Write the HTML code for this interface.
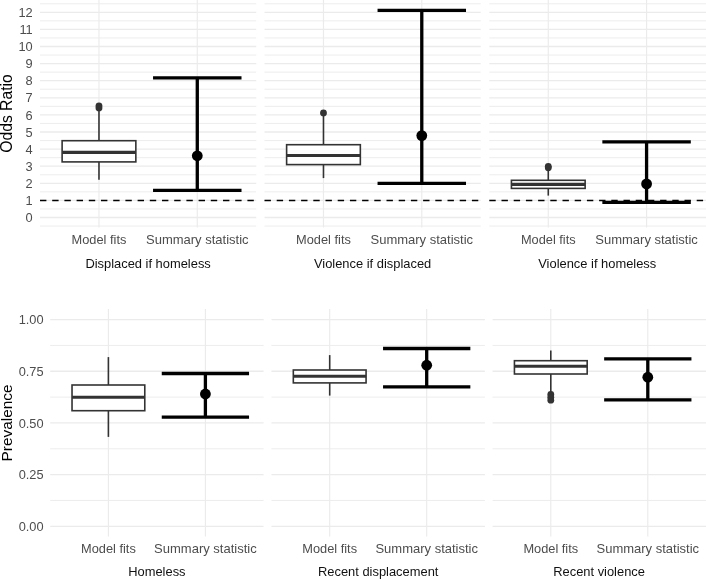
<!DOCTYPE html>
<html lang="en"><head><meta charset="utf-8"><title>Odds ratio and prevalence: model fits vs summary statistic</title>
<style>html,body{margin:0;padding:0;background:#fff}body{width:706px;height:579px;overflow:hidden}svg{display:block}</style></head>
<body>
<svg width="706" height="579" viewBox="0 0 706 579" font-family='"Liberation Sans", Arial, Helvetica, sans-serif'>
<rect width="706" height="579" fill="#fff"/>
<line x1="40.00" x2="256.20" y1="226.05" y2="226.05" stroke="#EBEBEB" stroke-width="0.9"/>
<line x1="40.00" x2="256.20" y1="208.95" y2="208.95" stroke="#EBEBEB" stroke-width="0.9"/>
<line x1="40.00" x2="256.20" y1="191.85" y2="191.85" stroke="#EBEBEB" stroke-width="0.9"/>
<line x1="40.00" x2="256.20" y1="174.75" y2="174.75" stroke="#EBEBEB" stroke-width="0.9"/>
<line x1="40.00" x2="256.20" y1="157.65" y2="157.65" stroke="#EBEBEB" stroke-width="0.9"/>
<line x1="40.00" x2="256.20" y1="140.55" y2="140.55" stroke="#EBEBEB" stroke-width="0.9"/>
<line x1="40.00" x2="256.20" y1="123.45" y2="123.45" stroke="#EBEBEB" stroke-width="0.9"/>
<line x1="40.00" x2="256.20" y1="106.35" y2="106.35" stroke="#EBEBEB" stroke-width="0.9"/>
<line x1="40.00" x2="256.20" y1="89.25" y2="89.25" stroke="#EBEBEB" stroke-width="0.9"/>
<line x1="40.00" x2="256.20" y1="72.15" y2="72.15" stroke="#EBEBEB" stroke-width="0.9"/>
<line x1="40.00" x2="256.20" y1="55.05" y2="55.05" stroke="#EBEBEB" stroke-width="0.9"/>
<line x1="40.00" x2="256.20" y1="37.95" y2="37.95" stroke="#EBEBEB" stroke-width="0.9"/>
<line x1="40.00" x2="256.20" y1="20.85" y2="20.85" stroke="#EBEBEB" stroke-width="0.9"/>
<line x1="40.00" x2="256.20" y1="3.75" y2="3.75" stroke="#EBEBEB" stroke-width="0.9"/>
<line x1="40.00" x2="256.20" y1="217.50" y2="217.50" stroke="#EBEBEB" stroke-width="1.3"/>
<line x1="40.00" x2="256.20" y1="200.40" y2="200.40" stroke="#EBEBEB" stroke-width="1.3"/>
<line x1="40.00" x2="256.20" y1="183.30" y2="183.30" stroke="#EBEBEB" stroke-width="1.3"/>
<line x1="40.00" x2="256.20" y1="166.20" y2="166.20" stroke="#EBEBEB" stroke-width="1.3"/>
<line x1="40.00" x2="256.20" y1="149.10" y2="149.10" stroke="#EBEBEB" stroke-width="1.3"/>
<line x1="40.00" x2="256.20" y1="132.00" y2="132.00" stroke="#EBEBEB" stroke-width="1.3"/>
<line x1="40.00" x2="256.20" y1="114.90" y2="114.90" stroke="#EBEBEB" stroke-width="1.3"/>
<line x1="40.00" x2="256.20" y1="97.80" y2="97.80" stroke="#EBEBEB" stroke-width="1.3"/>
<line x1="40.00" x2="256.20" y1="80.70" y2="80.70" stroke="#EBEBEB" stroke-width="1.3"/>
<line x1="40.00" x2="256.20" y1="63.60" y2="63.60" stroke="#EBEBEB" stroke-width="1.3"/>
<line x1="40.00" x2="256.20" y1="46.50" y2="46.50" stroke="#EBEBEB" stroke-width="1.3"/>
<line x1="40.00" x2="256.20" y1="29.40" y2="29.40" stroke="#EBEBEB" stroke-width="1.3"/>
<line x1="40.00" x2="256.20" y1="12.30" y2="12.30" stroke="#EBEBEB" stroke-width="1.3"/>
<line x1="98.98" x2="98.98" y1="-1.00" y2="227.50" stroke="#EBEBEB" stroke-width="1.15"/>
<line x1="197.28" x2="197.28" y1="-1.00" y2="227.50" stroke="#EBEBEB" stroke-width="1.15"/>
<g stroke="#333333" stroke-width="1.6" fill="none">
<line x1="98.98" x2="98.98" y1="108.00" y2="140.70"/>
<line x1="98.98" x2="98.98" y1="161.90" y2="179.80"/>
<rect x="62.12" y="140.70" width="73.72" height="21.20" fill="#fff"/>
<line x1="62.12" x2="135.84" y1="152.40" y2="152.40" stroke-width="3.1"/>
</g>
<circle cx="98.98" cy="105.80" r="3.4" fill="#333333"/>
<circle cx="98.98" cy="107.90" r="3.4" fill="#333333"/>
<line x1="40.00" x2="256.20" y1="200.55" y2="200.55" stroke="#000" stroke-width="1.55" stroke-dasharray="6.4 5.8"/>
<g stroke="#000" stroke-width="3.3" fill="none">
<path d="M153.04 77.90H241.51M197.28 77.90V190.40M153.04 190.40H241.51"/>
</g>
<circle cx="197.28" cy="155.80" r="5.4" fill="#000"/>
<g font-size="12.8" fill="#4D4D4D" text-anchor="middle"><text x="98.98" y="244.3">Model fits</text><text x="197.28" y="244.3" font-size="13">Summary statistic</text></g>
<text x="148.10" y="267.5" font-size="12.9" fill="#111" text-anchor="middle">Displaced if homeless</text>
<line x1="264.50" x2="480.70" y1="226.05" y2="226.05" stroke="#EBEBEB" stroke-width="0.9"/>
<line x1="264.50" x2="480.70" y1="208.95" y2="208.95" stroke="#EBEBEB" stroke-width="0.9"/>
<line x1="264.50" x2="480.70" y1="191.85" y2="191.85" stroke="#EBEBEB" stroke-width="0.9"/>
<line x1="264.50" x2="480.70" y1="174.75" y2="174.75" stroke="#EBEBEB" stroke-width="0.9"/>
<line x1="264.50" x2="480.70" y1="157.65" y2="157.65" stroke="#EBEBEB" stroke-width="0.9"/>
<line x1="264.50" x2="480.70" y1="140.55" y2="140.55" stroke="#EBEBEB" stroke-width="0.9"/>
<line x1="264.50" x2="480.70" y1="123.45" y2="123.45" stroke="#EBEBEB" stroke-width="0.9"/>
<line x1="264.50" x2="480.70" y1="106.35" y2="106.35" stroke="#EBEBEB" stroke-width="0.9"/>
<line x1="264.50" x2="480.70" y1="89.25" y2="89.25" stroke="#EBEBEB" stroke-width="0.9"/>
<line x1="264.50" x2="480.70" y1="72.15" y2="72.15" stroke="#EBEBEB" stroke-width="0.9"/>
<line x1="264.50" x2="480.70" y1="55.05" y2="55.05" stroke="#EBEBEB" stroke-width="0.9"/>
<line x1="264.50" x2="480.70" y1="37.95" y2="37.95" stroke="#EBEBEB" stroke-width="0.9"/>
<line x1="264.50" x2="480.70" y1="20.85" y2="20.85" stroke="#EBEBEB" stroke-width="0.9"/>
<line x1="264.50" x2="480.70" y1="3.75" y2="3.75" stroke="#EBEBEB" stroke-width="0.9"/>
<line x1="264.50" x2="480.70" y1="217.50" y2="217.50" stroke="#EBEBEB" stroke-width="1.3"/>
<line x1="264.50" x2="480.70" y1="200.40" y2="200.40" stroke="#EBEBEB" stroke-width="1.3"/>
<line x1="264.50" x2="480.70" y1="183.30" y2="183.30" stroke="#EBEBEB" stroke-width="1.3"/>
<line x1="264.50" x2="480.70" y1="166.20" y2="166.20" stroke="#EBEBEB" stroke-width="1.3"/>
<line x1="264.50" x2="480.70" y1="149.10" y2="149.10" stroke="#EBEBEB" stroke-width="1.3"/>
<line x1="264.50" x2="480.70" y1="132.00" y2="132.00" stroke="#EBEBEB" stroke-width="1.3"/>
<line x1="264.50" x2="480.70" y1="114.90" y2="114.90" stroke="#EBEBEB" stroke-width="1.3"/>
<line x1="264.50" x2="480.70" y1="97.80" y2="97.80" stroke="#EBEBEB" stroke-width="1.3"/>
<line x1="264.50" x2="480.70" y1="80.70" y2="80.70" stroke="#EBEBEB" stroke-width="1.3"/>
<line x1="264.50" x2="480.70" y1="63.60" y2="63.60" stroke="#EBEBEB" stroke-width="1.3"/>
<line x1="264.50" x2="480.70" y1="46.50" y2="46.50" stroke="#EBEBEB" stroke-width="1.3"/>
<line x1="264.50" x2="480.70" y1="29.40" y2="29.40" stroke="#EBEBEB" stroke-width="1.3"/>
<line x1="264.50" x2="480.70" y1="12.30" y2="12.30" stroke="#EBEBEB" stroke-width="1.3"/>
<line x1="323.48" x2="323.48" y1="-1.00" y2="227.50" stroke="#EBEBEB" stroke-width="1.15"/>
<line x1="421.78" x2="421.78" y1="-1.00" y2="227.50" stroke="#EBEBEB" stroke-width="1.15"/>
<g stroke="#333333" stroke-width="1.6" fill="none">
<line x1="323.48" x2="323.48" y1="114.00" y2="144.70"/>
<line x1="323.48" x2="323.48" y1="164.60" y2="178.10"/>
<rect x="286.62" y="144.70" width="73.72" height="19.90" fill="#fff"/>
<line x1="286.62" x2="360.34" y1="155.50" y2="155.50" stroke-width="3.1"/>
</g>
<circle cx="323.48" cy="112.90" r="3.4" fill="#333333"/>
<line x1="264.50" x2="480.70" y1="200.55" y2="200.55" stroke="#000" stroke-width="1.55" stroke-dasharray="6.4 5.8"/>
<g stroke="#000" stroke-width="3.3" fill="none">
<path d="M377.55 10.40H466.02M421.78 10.40V183.40M377.55 183.40H466.02"/>
</g>
<circle cx="421.78" cy="135.60" r="5.4" fill="#000"/>
<g font-size="12.8" fill="#4D4D4D" text-anchor="middle"><text x="323.48" y="244.3">Model fits</text><text x="421.78" y="244.3" font-size="13">Summary statistic</text></g>
<text x="372.60" y="267.5" font-size="12.9" fill="#111" text-anchor="middle">Violence if displaced</text>
<line x1="489.30" x2="706.00" y1="226.05" y2="226.05" stroke="#EBEBEB" stroke-width="0.9"/>
<line x1="489.30" x2="706.00" y1="208.95" y2="208.95" stroke="#EBEBEB" stroke-width="0.9"/>
<line x1="489.30" x2="706.00" y1="191.85" y2="191.85" stroke="#EBEBEB" stroke-width="0.9"/>
<line x1="489.30" x2="706.00" y1="174.75" y2="174.75" stroke="#EBEBEB" stroke-width="0.9"/>
<line x1="489.30" x2="706.00" y1="157.65" y2="157.65" stroke="#EBEBEB" stroke-width="0.9"/>
<line x1="489.30" x2="706.00" y1="140.55" y2="140.55" stroke="#EBEBEB" stroke-width="0.9"/>
<line x1="489.30" x2="706.00" y1="123.45" y2="123.45" stroke="#EBEBEB" stroke-width="0.9"/>
<line x1="489.30" x2="706.00" y1="106.35" y2="106.35" stroke="#EBEBEB" stroke-width="0.9"/>
<line x1="489.30" x2="706.00" y1="89.25" y2="89.25" stroke="#EBEBEB" stroke-width="0.9"/>
<line x1="489.30" x2="706.00" y1="72.15" y2="72.15" stroke="#EBEBEB" stroke-width="0.9"/>
<line x1="489.30" x2="706.00" y1="55.05" y2="55.05" stroke="#EBEBEB" stroke-width="0.9"/>
<line x1="489.30" x2="706.00" y1="37.95" y2="37.95" stroke="#EBEBEB" stroke-width="0.9"/>
<line x1="489.30" x2="706.00" y1="20.85" y2="20.85" stroke="#EBEBEB" stroke-width="0.9"/>
<line x1="489.30" x2="706.00" y1="3.75" y2="3.75" stroke="#EBEBEB" stroke-width="0.9"/>
<line x1="489.30" x2="706.00" y1="217.50" y2="217.50" stroke="#EBEBEB" stroke-width="1.3"/>
<line x1="489.30" x2="706.00" y1="200.40" y2="200.40" stroke="#EBEBEB" stroke-width="1.3"/>
<line x1="489.30" x2="706.00" y1="183.30" y2="183.30" stroke="#EBEBEB" stroke-width="1.3"/>
<line x1="489.30" x2="706.00" y1="166.20" y2="166.20" stroke="#EBEBEB" stroke-width="1.3"/>
<line x1="489.30" x2="706.00" y1="149.10" y2="149.10" stroke="#EBEBEB" stroke-width="1.3"/>
<line x1="489.30" x2="706.00" y1="132.00" y2="132.00" stroke="#EBEBEB" stroke-width="1.3"/>
<line x1="489.30" x2="706.00" y1="114.90" y2="114.90" stroke="#EBEBEB" stroke-width="1.3"/>
<line x1="489.30" x2="706.00" y1="97.80" y2="97.80" stroke="#EBEBEB" stroke-width="1.3"/>
<line x1="489.30" x2="706.00" y1="80.70" y2="80.70" stroke="#EBEBEB" stroke-width="1.3"/>
<line x1="489.30" x2="706.00" y1="63.60" y2="63.60" stroke="#EBEBEB" stroke-width="1.3"/>
<line x1="489.30" x2="706.00" y1="46.50" y2="46.50" stroke="#EBEBEB" stroke-width="1.3"/>
<line x1="489.30" x2="706.00" y1="29.40" y2="29.40" stroke="#EBEBEB" stroke-width="1.3"/>
<line x1="489.30" x2="706.00" y1="12.30" y2="12.30" stroke="#EBEBEB" stroke-width="1.3"/>
<line x1="548.28" x2="548.28" y1="-1.00" y2="227.50" stroke="#EBEBEB" stroke-width="1.15"/>
<line x1="646.58" x2="646.58" y1="-1.00" y2="227.50" stroke="#EBEBEB" stroke-width="1.15"/>
<g stroke="#333333" stroke-width="1.6" fill="none">
<line x1="548.28" x2="548.28" y1="170.00" y2="180.30"/>
<line x1="548.28" x2="548.28" y1="188.40" y2="195.60"/>
<rect x="511.42" y="180.30" width="73.72" height="8.10" fill="#fff"/>
<line x1="511.42" x2="585.14" y1="184.40" y2="184.40" stroke-width="3.1"/>
</g>
<circle cx="548.28" cy="166.30" r="3.4" fill="#333333"/>
<circle cx="548.28" cy="167.80" r="3.4" fill="#333333"/>
<line x1="489.30" x2="706.00" y1="200.55" y2="200.55" stroke="#000" stroke-width="1.55" stroke-dasharray="6.4 5.8"/>
<g stroke="#000" stroke-width="3.3" fill="none">
<path d="M602.34 141.80H690.81M646.58 141.80V202.40M602.34 202.40H690.81"/>
</g>
<circle cx="646.58" cy="183.90" r="5.4" fill="#000"/>
<g font-size="12.8" fill="#4D4D4D" text-anchor="middle"><text x="548.28" y="244.3">Model fits</text><text x="646.58" y="244.3" font-size="13">Summary statistic</text></g>
<text x="597.25" y="267.5" font-size="12.9" fill="#111" text-anchor="middle">Violence if homeless</text>
<g font-size="12.8" fill="#4D4D4D" text-anchor="end">
<text x="32.7" y="222.10">0</text>
<text x="32.7" y="205.00">1</text>
<text x="32.7" y="187.90">2</text>
<text x="32.7" y="170.80">3</text>
<text x="32.7" y="153.70">4</text>
<text x="32.7" y="136.60">5</text>
<text x="32.7" y="119.50">6</text>
<text x="32.7" y="102.40">7</text>
<text x="32.7" y="85.30">8</text>
<text x="32.7" y="68.20">9</text>
<text x="32.7" y="51.10">10</text>
<text x="32.7" y="34.00">11</text>
<text x="32.7" y="16.90">12</text>
</g>
<text transform="translate(12,113.5) rotate(-90)" font-size="15.7" fill="#000" text-anchor="middle">Odds Ratio</text>
<line x1="50.20" x2="263.60" y1="500.46" y2="500.46" stroke="#EBEBEB" stroke-width="0.9"/>
<line x1="50.20" x2="263.60" y1="448.79" y2="448.79" stroke="#EBEBEB" stroke-width="0.9"/>
<line x1="50.20" x2="263.60" y1="397.11" y2="397.11" stroke="#EBEBEB" stroke-width="0.9"/>
<line x1="50.20" x2="263.60" y1="345.44" y2="345.44" stroke="#EBEBEB" stroke-width="0.9"/>
<line x1="50.20" x2="263.60" y1="526.30" y2="526.30" stroke="#EBEBEB" stroke-width="1.3"/>
<line x1="50.20" x2="263.60" y1="474.62" y2="474.62" stroke="#EBEBEB" stroke-width="1.3"/>
<line x1="50.20" x2="263.60" y1="422.95" y2="422.95" stroke="#EBEBEB" stroke-width="1.3"/>
<line x1="50.20" x2="263.60" y1="371.27" y2="371.27" stroke="#EBEBEB" stroke-width="1.3"/>
<line x1="50.20" x2="263.60" y1="319.60" y2="319.60" stroke="#EBEBEB" stroke-width="1.3"/>
<line x1="108.40" x2="108.40" y1="309.00" y2="536.40" stroke="#EBEBEB" stroke-width="1.15"/>
<line x1="205.40" x2="205.40" y1="309.00" y2="536.40" stroke="#EBEBEB" stroke-width="1.15"/>
<g stroke="#333333" stroke-width="1.6" fill="none">
<line x1="108.40" x2="108.40" y1="357.10" y2="385.00"/>
<line x1="108.40" x2="108.40" y1="410.70" y2="436.90"/>
<rect x="72.03" y="385.00" width="72.75" height="25.70" fill="#fff"/>
<line x1="72.03" x2="144.78" y1="397.20" y2="397.20" stroke-width="3.1"/>
</g>
<g stroke="#000" stroke-width="3.3" fill="none">
<path d="M161.75 373.50H249.05M205.40 373.50V417.10M161.75 417.10H249.05"/>
</g>
<circle cx="205.40" cy="394.00" r="5.4" fill="#000"/>
<g font-size="12.8" fill="#4D4D4D" text-anchor="middle"><text x="108.40" y="553.2">Model fits</text><text x="205.40" y="553.2" font-size="13">Summary statistic</text></g>
<text x="156.90" y="575.9" font-size="12.9" fill="#111" text-anchor="middle">Homeless</text>
<line x1="271.50" x2="484.90" y1="500.46" y2="500.46" stroke="#EBEBEB" stroke-width="0.9"/>
<line x1="271.50" x2="484.90" y1="448.79" y2="448.79" stroke="#EBEBEB" stroke-width="0.9"/>
<line x1="271.50" x2="484.90" y1="397.11" y2="397.11" stroke="#EBEBEB" stroke-width="0.9"/>
<line x1="271.50" x2="484.90" y1="345.44" y2="345.44" stroke="#EBEBEB" stroke-width="0.9"/>
<line x1="271.50" x2="484.90" y1="526.30" y2="526.30" stroke="#EBEBEB" stroke-width="1.3"/>
<line x1="271.50" x2="484.90" y1="474.62" y2="474.62" stroke="#EBEBEB" stroke-width="1.3"/>
<line x1="271.50" x2="484.90" y1="422.95" y2="422.95" stroke="#EBEBEB" stroke-width="1.3"/>
<line x1="271.50" x2="484.90" y1="371.27" y2="371.27" stroke="#EBEBEB" stroke-width="1.3"/>
<line x1="271.50" x2="484.90" y1="319.60" y2="319.60" stroke="#EBEBEB" stroke-width="1.3"/>
<line x1="329.70" x2="329.70" y1="309.00" y2="536.40" stroke="#EBEBEB" stroke-width="1.15"/>
<line x1="426.70" x2="426.70" y1="309.00" y2="536.40" stroke="#EBEBEB" stroke-width="1.15"/>
<g stroke="#333333" stroke-width="1.6" fill="none">
<line x1="329.70" x2="329.70" y1="355.10" y2="370.00"/>
<line x1="329.70" x2="329.70" y1="382.90" y2="395.60"/>
<rect x="293.32" y="370.00" width="72.75" height="12.90" fill="#fff"/>
<line x1="293.32" x2="366.07" y1="376.20" y2="376.20" stroke-width="3.1"/>
</g>
<g stroke="#000" stroke-width="3.3" fill="none">
<path d="M383.05 348.50H470.35M426.70 348.50V386.90M383.05 386.90H470.35"/>
</g>
<circle cx="426.70" cy="365.20" r="5.4" fill="#000"/>
<g font-size="12.8" fill="#4D4D4D" text-anchor="middle"><text x="329.70" y="553.2">Model fits</text><text x="426.70" y="553.2" font-size="13">Summary statistic</text></g>
<text x="378.20" y="575.9" font-size="12.9" fill="#111" text-anchor="middle">Recent displacement</text>
<line x1="492.60" x2="706.00" y1="500.46" y2="500.46" stroke="#EBEBEB" stroke-width="0.9"/>
<line x1="492.60" x2="706.00" y1="448.79" y2="448.79" stroke="#EBEBEB" stroke-width="0.9"/>
<line x1="492.60" x2="706.00" y1="397.11" y2="397.11" stroke="#EBEBEB" stroke-width="0.9"/>
<line x1="492.60" x2="706.00" y1="345.44" y2="345.44" stroke="#EBEBEB" stroke-width="0.9"/>
<line x1="492.60" x2="706.00" y1="526.30" y2="526.30" stroke="#EBEBEB" stroke-width="1.3"/>
<line x1="492.60" x2="706.00" y1="474.62" y2="474.62" stroke="#EBEBEB" stroke-width="1.3"/>
<line x1="492.60" x2="706.00" y1="422.95" y2="422.95" stroke="#EBEBEB" stroke-width="1.3"/>
<line x1="492.60" x2="706.00" y1="371.27" y2="371.27" stroke="#EBEBEB" stroke-width="1.3"/>
<line x1="492.60" x2="706.00" y1="319.60" y2="319.60" stroke="#EBEBEB" stroke-width="1.3"/>
<line x1="550.80" x2="550.80" y1="309.00" y2="536.40" stroke="#EBEBEB" stroke-width="1.15"/>
<line x1="647.80" x2="647.80" y1="309.00" y2="536.40" stroke="#EBEBEB" stroke-width="1.15"/>
<g stroke="#333333" stroke-width="1.6" fill="none">
<line x1="550.80" x2="550.80" y1="350.40" y2="360.70"/>
<line x1="550.80" x2="550.80" y1="374.00" y2="393.00"/>
<rect x="514.43" y="360.70" width="72.75" height="13.30" fill="#fff"/>
<line x1="514.43" x2="587.18" y1="366.20" y2="366.20" stroke-width="3.1"/>
</g>
<circle cx="550.80" cy="394.50" r="3.4" fill="#333333"/>
<circle cx="550.80" cy="397.30" r="3.4" fill="#333333"/>
<circle cx="550.80" cy="400.20" r="3.4" fill="#333333"/>
<g stroke="#000" stroke-width="3.3" fill="none">
<path d="M604.15 358.80H691.45M647.80 358.80V399.80M604.15 399.80H691.45"/>
</g>
<circle cx="647.80" cy="377.20" r="5.4" fill="#000"/>
<g font-size="12.8" fill="#4D4D4D" text-anchor="middle"><text x="550.80" y="553.2">Model fits</text><text x="647.80" y="553.2" font-size="13">Summary statistic</text></g>
<text x="599.10" y="575.9" font-size="12.9" fill="#111" text-anchor="middle">Recent violence</text>
<g font-size="12.8" fill="#4D4D4D" text-anchor="end">
<text x="43.6" y="530.90">0.00</text>
<text x="43.6" y="479.22">0.25</text>
<text x="43.6" y="427.55">0.50</text>
<text x="43.6" y="375.88">0.75</text>
<text x="43.6" y="324.20">1.00</text>
</g>
<text transform="translate(12,422.9) rotate(-90)" font-size="15.4" fill="#000" text-anchor="middle">Prevalence</text>
</svg>
</body></html>
